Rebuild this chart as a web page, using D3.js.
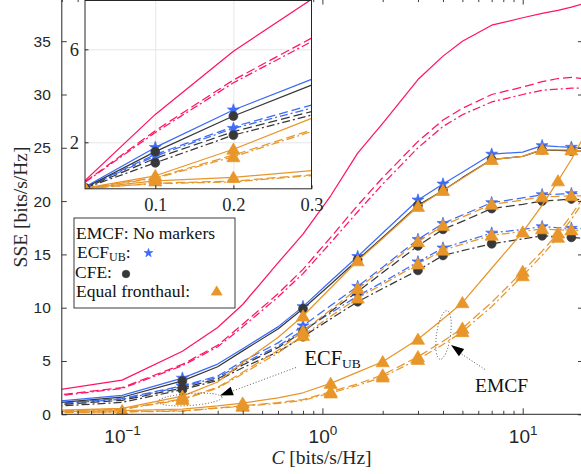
<!DOCTYPE html>
<html><head><meta charset="utf-8">
<script src="https://cdn.jsdelivr.net/npm/d3@7"></script>
<style>
html,body{margin:0;padding:0;background:#fff;overflow:hidden}
svg{display:block;font-family:"Liberation Serif","Times New Roman",serif}
</style></head><body>
<svg id="chart" width="581" height="474"></svg>
<script>
// Fronthaul capacity grid (bits/s/Hz)
const capacity = [0.01, 0.1, 0.2, 0.3, 0.4, 0.6, 0.8, 1.1, 1.5, 2, 3, 4, 5, 7, 10, 12.5, 15, 17.5, 20];

// EMCF (no markers)
const emcfSolid   = [0.35, 3.2, 5.92, 8.15, 10.3, 14.2, 16.9, 20.5, 24.5, 27.3, 31.4, 33.6, 35.0, 36.5, 37.2, 37.6, 37.9, 38.2, 38.5];
const emcfDashed  = [0.3, 2.5, 4.68, 6.48, 8.45, 11.3, 13.6, 16.6, 19.6, 22.2, 25.6, 27.6, 28.7, 30.0, 30.7, 31.2, 31.5, 31.6, 31.5];
const emcfDashDot = [0.28, 2.42, 4.56, 6.33, 8.2, 11.0, 13.2, 16.1, 19.0, 21.6, 25.0, 27.0, 28.1, 29.3, 30.0, 30.4, 30.5, 30.6, 30.6];

// ECF_UB (stars)
const ecfSolid   = [0.08, 1.78, 3.39, 4.71, 6.15, 8.2, 10.1, 12.5, 14.8, 17.0, 20.1, 21.6, 22.7, 24.4, 24.6, 25.2, 25.1, 25.05, 24.95];
const ecfDashed  = [0.05, 1.48, 2.67, 3.60, 4.97, 6.7, 8.3, 10.2, 12.0, 13.8, 16.4, 17.9, 18.7, 19.85, 20.3, 20.6, 20.65, 20.7, 20.7];
const ecfDashDot = [0.05, 1.41, 2.60, 3.47, 4.77, 6.4, 7.9, 9.5, 11.1, 12.4, 14.3, 15.6, 16.15, 17.0, 17.35, 17.6, 17.5, 17.45, 17.4];

// CFE (circles)
const cfeSolid   = [0.05, 1.60, 3.13, 4.46, 5.95, 8.0, 9.9, 12.2, 14.5, 16.6, 19.6, 21.0, 22.2, 23.9, 24.2, 24.8, 24.75, 24.7, 24.7];
const cfeDashed  = [0.03, 1.31, 2.46, 3.32, 4.62, 6.25, 7.75, 9.65, 11.5, 13.3, 15.8, 17.35, 18.1, 19.3, 19.7, 20.0, 20.1, 20.2, 20.1];
const cfeDashDot = [0.03, 1.12, 2.31, 3.17, 4.37, 5.85, 7.28, 8.95, 10.56, 11.8, 13.5, 14.9, 15.35, 16.0, 16.45, 16.75, 16.65, 16.6, 16.5];

// Equal fronthaul (triangles)
const eqSolid   = [0.03, 0.56, 1.70, 3.03, 4.85, 7.2, 9.22, 11.85, 14.4, 16.5, 19.5, 21.0, 22.15, 23.9, 24.2, 24.85, 24.8, 24.8, 24.7];
const eqDashed  = [0.02, 0.48, 1.45, 2.53, 3.95, 6.0, 7.8, 9.8, 11.8, 13.6, 16.2, 17.7, 18.5, 19.7, 20.1, 20.4, 20.45, 20.5, 20.5];
const eqDashDot = [0.02, 0.45, 1.38, 2.46, 3.8, 5.75, 7.4, 9.2, 10.9, 12.2, 14.1, 15.4, 15.95, 16.8, 17.15, 17.4, 17.3, 17.3, 17.2];

// Equal fronthaul with EMCF (triangles, lower curves)
const eqEmcfSolid   = [0.02, 0.34, 0.49, 0.78, 1.05, 1.55, 2.02, 2.9, 3.95, 4.93, 7.04, 8.95, 10.47, 13.7, 17.1, 19.6, 21.9, 23.9, 25.9];
const eqEmcfDashed  = [0.02, 0.24, 0.33, 0.6, 0.8, 1.1, 1.38, 2.12, 2.85, 3.69, 5.4, 6.85, 8.07, 10.5, 13.4, 15.3, 17.0, 18.7, 20.3];
const eqEmcfDashDot = [0.02, 0.22, 0.3, 0.57, 0.75, 1.02, 1.3, 2.0, 2.7, 3.5, 5.15, 6.55, 7.75, 10.1, 13.0, 14.9, 16.6, 18.3, 19.9];

// Capacities carrying markers
const markCapsUpper = [0.2, 0.8, 1.5, 3, 4, 7, 12.5, 17.5];
const markCapsLower = [0.1, 0.4, 1.1, 2, 3, 5, 10, 15];
const markCapsInset = [0.01, 0.1, 0.2];

// Tick values
const yTicksMain = [0, 5, 10, 15, 20, 25, 30, 35];
const xMajorMain = [0.1, 1, 10];
const xMinorMain = [0.05, 0.06, 0.07, 0.08, 0.09, 0.2, 0.3, 0.4, 0.5, 0.6, 0.7, 0.8, 0.9, 2, 3, 4, 5, 6, 7, 8, 9, 20];
const xMajorExp = ["\u22121", "0", "1"];
const xTicksInset = [0.1, 0.2, 0.3];
const yTicksInset = [2, 6];

const PINK = "#FF1464", BLUE = "#3D6BF5", DARK = "#383838", ORANGE = "#E8962A", AXIS = "#262626";
const DASH = { solid: null, dashed: "9,4", dashdot: "8,3,2,3" };

const series = [
  { v: emcfSolid, c: PINK, s: "solid", m: null },
  { v: emcfDashed, c: PINK, s: "dashed", m: null },
  { v: emcfDashDot, c: PINK, s: "dashdot", m: null },
  { v: ecfSolid, c: BLUE, s: "solid", m: "star", at: markCapsUpper, inset: true },
  { v: ecfDashed, c: BLUE, s: "dashed", m: "star", at: markCapsUpper, inset: false },
  { v: ecfDashDot, c: BLUE, s: "dashdot", m: "star", at: markCapsUpper, inset: true },
  { v: cfeSolid, c: DARK, s: "solid", m: "circle", at: markCapsUpper, inset: true },
  { v: cfeDashed, c: DARK, s: "dashed", m: "circle", at: markCapsUpper, inset: false },
  { v: cfeDashDot, c: DARK, s: "dashdot", m: "circle", at: markCapsUpper, inset: true },
  { v: eqSolid, c: ORANGE, s: "solid", m: "tri", at: markCapsUpper, inset: true },
  { v: eqDashed, c: ORANGE, s: "dashed", m: "tri", at: markCapsUpper, inset: false },
  { v: eqDashDot, c: ORANGE, s: "dashdot", m: "tri", at: markCapsUpper, inset: true },
  { v: eqEmcfSolid, c: ORANGE, s: "solid", m: "tri", at: markCapsLower, inset: true },
  { v: eqEmcfDashed, c: ORANGE, s: "dashed", m: "tri", at: markCapsLower, inset: false },
  { v: eqEmcfDashDot, c: ORANGE, s: "dashdot", m: "tri", at: markCapsLower, inset: false }
];

const svg = d3.select("#chart");
svg.append("rect").attr("width", 581).attr("height", 474).attr("fill", "#fff");

// ---------- main axes ----------
const x = d3.scaleLog().domain([0.05, 20]).range([61.8, 583]);
const y = d3.scaleLinear().domain([0, 39]).range([414.3, -1.44]);
const [L, R] = x.range(), [B, T] = y.range();

const defs = svg.append("defs");
defs.append("clipPath").attr("id", "clipMain").append("rect")
  .attr("x", L).attr("y", T).attr("width", R - L).attr("height", B - T);

function marker(g, kind, color, cx, cy, scale = 1) {
  let p;
  if (kind === "star") {
    p = g.append("path").attr("d", d3.symbol(d3.symbolStar, 44 * scale * scale)());
  } else if (kind === "circle") {
    p = g.append("path").attr("d", d3.symbol(d3.symbolCircle, 62 * scale * scale)());
  } else {
    const a = 6.6 * scale;
    p = g.append("path").attr("d", `M0,${-6.2 * scale}L${a},${5 * scale}L${-a},${5 * scale}Z`);
  }
  p.attr("transform", `translate(${cx},${cy})`)
    .attr("fill", color).attr("stroke", color).attr("stroke-width", 0.7);
}

const plot = svg.append("g").attr("clip-path", "url(#clipMain)");
const lineMain = d3.line().x(d => x(d[0])).y(d => y(d[1]));

series.forEach(sr => {
  const pts = capacity.map((cc, i) => [cc, sr.v[i]]);
  plot.append("path").datum(pts).attr("d", lineMain)
    .attr("fill", "none").attr("stroke", sr.c).attr("stroke-width", 1.25)
    .attr("stroke-dasharray", DASH[sr.s]).attr("stroke-linejoin", "round");
  if (sr.m) {
    pts.filter(p => sr.at.includes(p[0])).forEach(p => marker(plot, sr.m, sr.c, x(p[0]), y(p[1])));
  }
});

// axes box and ticks
const ax = svg.append("g").attr("color", AXIS).attr("font-family", "Liberation Serif, serif");
ax.append("rect").attr("x", L).attr("y", T).attr("width", R - L).attr("height", B - T)
  .attr("fill", "none").attr("stroke", AXIS).attr("stroke-width", 1);

const yAxisL = ax.append("g").attr("transform", `translate(${L},0)`)
  .call(d3.axisLeft(y).tickValues(yTicksMain).tickSize(-5).tickPadding(11));
yAxisL.selectAll("text").attr("font-size", 15.5).attr("fill", AXIS);
ax.append("g").attr("transform", `translate(${R},0)`)
  .call(d3.axisRight(y).tickValues(yTicksMain).tickSize(-5).tickFormat(""));

const xAxisB = ax.append("g").attr("transform", `translate(0,${B})`)
  .call(d3.axisBottom(x).tickValues(xMajorMain).tickSize(-6).tickFormat(""));
ax.append("g").attr("transform", `translate(0,${B})`)
  .call(d3.axisBottom(x).tickValues(xMinorMain).tickSize(-3.5).tickFormat(""));
ax.append("g").attr("transform", `translate(0,${T})`)
  .call(d3.axisTop(x).tickValues(xMajorMain).tickSize(-6).tickFormat(""));
ax.append("g").attr("transform", `translate(0,${T})`)
  .call(d3.axisTop(x).tickValues(xMinorMain).tickSize(-3.5).tickFormat(""));
ax.selectAll(".domain").remove();
ax.selectAll(".tick line").attr("stroke", AXIS).attr("stroke-width", 0.9);

xAxisB.selectAll(".tick").each(function (d, i) {
  const t = d3.select(this).append("text").attr("y", 28.8).attr("text-anchor", "middle")
    .attr("fill", AXIS).attr("font-size", 19).attr("dy", null);
  t.append("tspan").text("10");
  t.append("tspan").attr("font-size", 13.5).attr("dy", -8.5).text(xMajorExp[i]);
});

// axis titles
svg.append("text").attr("transform", "translate(26.5,207) rotate(-90)")
  .attr("text-anchor", "middle").attr("font-size", 19.5).attr("fill", AXIS)
  .text("SSE [bits/s/Hz]");
const xt = svg.append("text").attr("x", 321.5).attr("y", 463.5).attr("text-anchor", "middle")
  .attr("font-size", 19.5).attr("fill", AXIS);
xt.append("tspan").attr("font-style", "italic").text("C");
xt.append("tspan").text(" [bits/s/Hz]");

// ---------- annotations ----------
const ann = svg.append("g");
function arrowHead(tipX, tipY, fromX, fromY, len = 13, half = 4.5) {
  const ang = Math.atan2(tipY - fromY, tipX - fromX);
  const bx = tipX - len * Math.cos(ang), by = tipY - len * Math.sin(ang);
  const nx = -Math.sin(ang) * half, ny = Math.cos(ang) * half;
  ann.append("path").attr("d", `M${tipX},${tipY}L${bx + nx},${by + ny}L${bx - nx},${by - ny}Z`)
    .attr("fill", "#000");
}
// ECF_UB pointer
ann.append("ellipse").attr("cx", 190).attr("cy", 399.5).attr("rx", 32).attr("ry", 6)
  .attr("transform", "rotate(-4,190,399.5)")
  .attr("fill", "none").attr("stroke", "#333").attr("stroke-width", 0.8).attr("stroke-dasharray", "1,2");
ann.append("line").attr("x1", 296).attr("y1", 367.5).attr("x2", 230).attr("y2", 392)
  .attr("stroke", "#333").attr("stroke-width", 0.8).attr("stroke-dasharray", "1,2");
arrowHead(220, 395.5, 296, 367.5);
const tECF = ann.append("text").attr("x", 304.5).attr("y", 365).attr("font-size", 20.5).attr("fill", "#111");
tECF.append("tspan").text("ECF");
tECF.append("tspan").attr("font-size", 13.5).attr("dy", 3).text("UB");

// EMCF pointer
ann.append("ellipse").attr("cx", 443.5).attr("cy", 335).attr("rx", 7).attr("ry", 24.5)
  .attr("transform", "rotate(8,443.5,335)")
  .attr("fill", "none").attr("stroke", "#333").attr("stroke-width", 0.8).attr("stroke-dasharray", "1,2");
ann.append("line").attr("x1", 485).attr("y1", 369.5).attr("x2", 460).attr("y2", 353)
  .attr("stroke", "#333").attr("stroke-width", 0.8).attr("stroke-dasharray", "1,2");
arrowHead(451, 345, 485, 369.5);
ann.append("text").attr("x", 475).attr("y", 391.5).attr("font-size", 19.5).attr("fill", "#111").text("EMCF");

// ---------- inset ----------
const xi = d3.scaleLinear().domain([0.01, 0.3]).range([85, 311.5]);
const yi = d3.scaleLinear().domain([0, 8.1]).range([188.8, 0.5]);
const [iL, iR] = xi.range(), [iB, iT] = yi.range();
defs.append("clipPath").attr("id", "clipInset").append("rect")
  .attr("x", iL).attr("y", iT).attr("width", iR - iL).attr("height", iB - iT);

const ins = svg.append("g");
ins.append("rect").attr("x", iL).attr("y", iT).attr("width", iR - iL).attr("height", iB - iT).attr("fill", "#fff");
// grid
ins.append("g").attr("transform", `translate(0,${iB})`)
  .call(d3.axisBottom(xi).tickValues([0.1, 0.2]).tickSize(-(iB - iT)).tickFormat(""))
  .call(g => g.select(".domain").remove())
  .selectAll("line").attr("stroke", "#E3E3E3").attr("stroke-width", 0.9);
ins.append("g").attr("transform", `translate(${iL},0)`)
  .call(d3.axisLeft(yi).tickValues(yTicksInset).tickSize(-(iR - iL)).tickFormat(""))
  .call(g => g.select(".domain").remove())
  .selectAll("line").attr("stroke", "#E3E3E3").attr("stroke-width", 0.9);

const insPlot = ins.append("g").attr("clip-path", "url(#clipInset)");
const lineInset = d3.line().x(d => xi(d[0])).y(d => yi(d[1]));
series.forEach(sr => {
  const pts = capacity.map((cc, i) => [cc, sr.v[i]]).filter(p => p[0] <= 0.3);
  insPlot.append("path").datum(pts).attr("d", lineInset)
    .attr("fill", "none").attr("stroke", sr.c).attr("stroke-width", 1.25)
    .attr("stroke-dasharray", DASH[sr.s]).attr("stroke-linejoin", "round");
});
series.forEach(sr => {
  if (!sr.m || !sr.inset) return;
  capacity.forEach((cc, i) => {
    if (markCapsInset.includes(cc)) marker(insPlot, sr.m, sr.c, xi(cc), yi(sr.v[i]));
  });
});
ins.append("rect").attr("x", iL).attr("y", iT).attr("width", iR - iL).attr("height", iB - iT)
  .attr("fill", "none").attr("stroke", AXIS).attr("stroke-width", 1);
const ixAxis = ins.append("g").attr("transform", `translate(0,${iB})`)
  .call(d3.axisBottom(xi).tickValues(xTicksInset).tickSize(-3.5).tickPadding(9).tickFormat(d3.format(".1f")));
const iyAxis = ins.append("g").attr("transform", `translate(${iL},0)`)
  .call(d3.axisLeft(yi).tickValues(yTicksInset).tickSize(-3.5).tickPadding(6).tickFormat(d3.format("d")));
[ixAxis, iyAxis].forEach(g => {
  g.select(".domain").remove();
  g.selectAll("line").attr("stroke", AXIS);
  g.selectAll("text").attr("font-size", 18.5).attr("fill", AXIS).attr("font-family", "Liberation Serif, serif");
});

// ---------- legend ----------
const lg = svg.append("g").attr("font-size", 17.5).attr("fill", "#111");
lg.append("rect").attr("x", 74).attr("y", 218).attr("width", 161).attr("height", 90)
  .attr("fill", "#fff").attr("stroke", AXIS).attr("stroke-width", 0.9);
lg.append("text").attr("x", 76).attr("y", 239).text("EMCF: No markers");
const l2 = lg.append("text").attr("x", 77).attr("y", 257.5);
l2.append("tspan").text("ECF");
l2.append("tspan").attr("font-size", 12).attr("dy", 3).text("UB");
l2.append("tspan").attr("dy", -3).text(":");
marker(lg, "star", BLUE, 148.5, 253, 0.72);
lg.append("text").attr("x", 75).attr("y", 278).text("CFE:");
marker(lg, "circle", DARK, 126, 274, 0.85);
lg.append("text").attr("x", 76).attr("y", 297).text("Equal fronthaul:");
marker(lg, "tri", ORANGE, 216.7, 291, 0.82);
</script>
</body></html>
